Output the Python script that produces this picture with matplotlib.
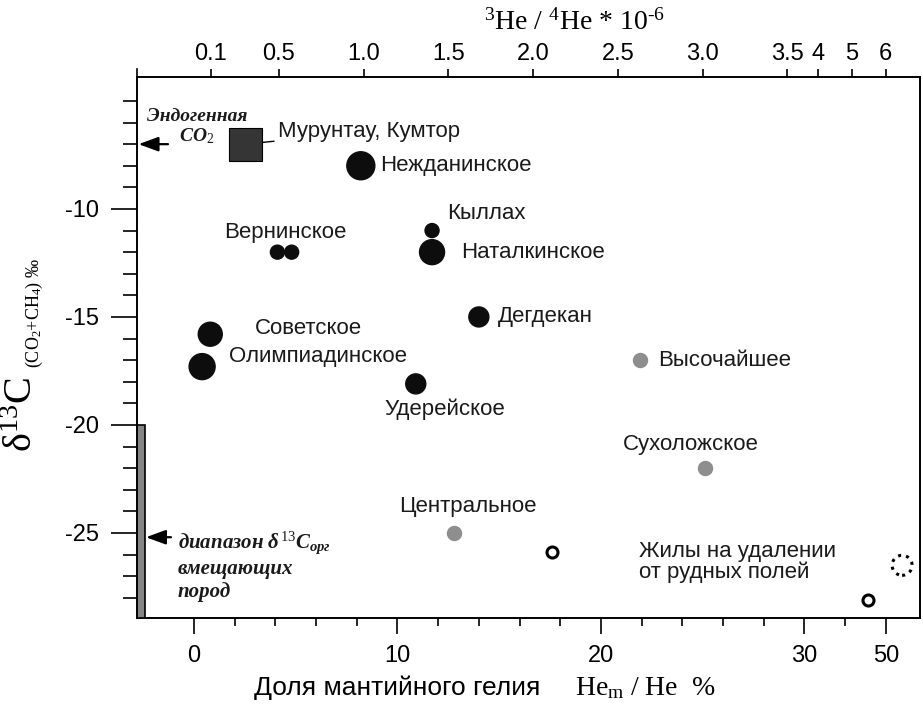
import numpy as np
import matplotlib
matplotlib.use('Agg')
import matplotlib.pyplot as plt
from matplotlib import font_manager
from matplotlib.transforms import blended_transform_factory
from matplotlib.patches import Rectangle


# data: mantle helium share (%) and d13C (permil)

black_names = ['Нежданинское', 'Кыллах', 'Наталкинское', 'Вернинское', '',
               'Дегдекан', 'Удерейское', 'Советское', 'Олимпиадинское']
black_he = [8.2, 11.7, 11.7, 4.1, 4.8, 14.0, 10.9, 0.8, 0.4]
black_d13c = [-8.0, -11.0, -12.0, -12.0, -12.0, -15.0, -18.1, -15.8, -17.3]

gray_names = ['Высочайшее', 'Сухоложское', 'Центральное']
gray_he = [21.9, 25.1, 12.8]
gray_d13c = [-17.0, -22.0, -25.0]

square_name = 'Мурунтау, Кумтор'
square_he = [2.5]
square_d13c = [-7.0]

vein_he = [17.6, 45.6]
vein_d13c = [-25.9, -28.1]
vein_dotted_he = [54.0]
vein_dotted_d13c = [-26.5]

endogenous_co2 = -7.0
host_rock_top = -20.0
host_rock_mark = -25.2

he_ticks = [0, 10, 20, 30, 50]
he_minor = [2, 4, 6, 8, 12, 14, 16, 18, 22, 24, 26, 28, 40]
ratio_ticks = [0.1, 0.5, 1.0, 1.5, 2.0, 2.5, 3.0, 3.5, 4, 5, 6]
ratio_labels = ['0.1', '0.5', '1.0', '1.5', '2.0', '2.5', '3.0', '3.5', '4', '5', '6']
ratio_mantle = 12.0  # 3He/4He*1e-6 for 100 % mantle helium
d13c_ticks = [-10, -15, -20, -25]


# styles (marker diameters in px at dpi 100)
black_sizes = [28, 14, 25, 14, 14, 20, 20, 24, 26]
black_offsets = [(14, 0), (11, 12), (21, 0), (6, 14), None, (14, 0), (21, -18), (32, 4), (19, 7)]
black_ha = ['left', 'left', 'left', 'center', 'left', 'left', 'center', 'left', 'left']
gray_offsets = [(13, 0), (-10, 17), (10, 19)]
gray_ha = ['left', 'center', 'center']


def pick(*names):
    for n in names:
        try:
            font_manager.findfont(n, fallback_to_default=False)
            return n
        except ValueError:
            pass
    return 'DejaVu Sans'


SANS = pick('Liberation Sans', 'Arial')
NARROW = pick('Liberation Sans Narrow', 'Liberation Sans')
SERIF = pick('Liberation Serif', 'DejaVu Serif')

plt.rcParams['font.family'] = SANS
plt.rcParams['axes.unicode_minus'] = False
plt.rcParams['mathtext.fontset'] = 'custom'
plt.rcParams['mathtext.rm'] = SERIF
plt.rcParams['mathtext.it'] = SERIF + ':italic:bold'
plt.rcParams['mathtext.bf'] = SERIF + ':bold'


def px(d):
    # marker diameter in px -> scatter area in pt^2
    return (np.asarray(d, float) * 0.72) ** 2


def fwd(x):
    x = np.asarray(x, float)
    return np.where(x <= 30, x, 30 + (x - 30) * 0.2)


def inv(u):
    u = np.asarray(u, float)
    return np.where(u <= 30, u, 30 + (u - 30) * 5)


fig = plt.figure(figsize=(9.23, 7.15), dpi=100)
ax = fig.add_axes([137 / 923, 97 / 715, 783 / 923, 541 / 715])
ax.set_xscale('function', functions=(fwd, inv))
ax.set_xlim(-2.8, 58.4)
ax.set_ylim(-28.94, -3.89)

for s in ax.spines.values():
    s.set_linewidth(1.2)

ax.set_xticks(he_ticks)
ax.set_xticklabels([str(t) for t in he_ticks])
ax.set_xticks(he_minor, minor=True)
ax.set_yticks(d13c_ticks)
ax.set_yticklabels([str(t) for t in d13c_ticks])
ax.set_yticks(np.arange(-28, -4), minor=True)
ax.tick_params(axis='x', which='major', length=11.5, width=1.2, pad=8, labelsize=17)
ax.tick_params(axis='x', which='minor', length=6, width=1.2)
ax.tick_params(axis='y', which='major', length=19, width=1.2, pad=8, labelsize=17)
ax.tick_params(axis='y', which='minor', length=10, width=1.2)
for lab in ax.get_xticklabels() + ax.get_yticklabels():
    lab.set_family(NARROW)

# top axis: 3He/4He
ax2 = ax.twiny()
ax2.set_xscale('function', functions=(fwd, inv))
ax2.set_xlim(ax.get_xlim())
ax2.set_xticks([r / ratio_mantle * 100 for r in ratio_ticks])
ax2.set_xticklabels(ratio_labels)
ax2.tick_params(axis='x', length=6, width=1.2, pad=3, labelsize=17)
ax2.xaxis.set_minor_locator(matplotlib.ticker.NullLocator())
for lab in ax2.get_xticklabels():
    lab.set_family(NARROW)
for s in ax2.spines.values():
    s.set_linewidth(1.2)
ax.plot([0, 0], [1, 1.015], transform=ax.transAxes, color='black', lw=1.2, clip_on=False)

# host rock range bar on the left spine
bt = blended_transform_factory(ax.transAxes, ax.transData)
ax.add_patch(Rectangle((0, host_rock_top - 10), 8 / 783, 10, transform=bt,
                       facecolor='#858585', edgecolor='black', lw=1.2, zorder=3))

# points
ax.scatter(black_he, black_d13c, s=px(black_sizes), color='#0d0d0d', zorder=4)
ax.scatter(gray_he, gray_d13c, s=px(14), color='#8e8e8e', zorder=4)
ax.scatter(vein_he, vein_d13c, s=px(11), facecolors='white', edgecolors='black',
           linewidths=2.2, zorder=4)
ax.scatter(vein_dotted_he, vein_dotted_d13c, s=px(20), facecolors='none', edgecolors='black',
           linewidths=2.2, linestyles=':', zorder=4)
ax.scatter(square_he, square_d13c, s=px(33), marker='s', color='#353535',
           edgecolors='black', linewidths=0.8, zorder=4)

lab_kw = dict(textcoords='offset points', va='center', fontsize=16, color='#1a1a1a')
for name, x, y, off, ha in zip(black_names, black_he, black_d13c, black_offsets, black_ha):
    if name:
        ax.annotate(name, (x, y), xytext=off, ha=ha, **lab_kw)
for name, x, y, off, ha in zip(gray_names, gray_he, gray_d13c, gray_offsets, gray_ha):
    ax.annotate(name, (x, y), xytext=off, ha=ha, **lab_kw)
ax.annotate(square_name, (square_he[0], square_d13c[0]), xytext=(24, 9), ha='left',
            arrowprops=dict(arrowstyle='-', color='black', lw=1.0, shrinkA=1, shrinkB=12),
            **lab_kw)
ax.text(0.641, -26.34, 'Жилы на удалении\nот рудных полей', transform=bt,
        ha='left', va='center', fontsize=16, color='#1a1a1a', linespacing=1.0)

# left side notes
arrow = dict(arrowstyle='-|>,head_length=0.6,head_width=0.22', color='black', lw=1.6,
             mutation_scale=20, shrinkA=0, shrinkB=0)
ax.annotate('', xy=(0.002, endogenous_co2), xycoords=bt,
            xytext=(31 / 783, endogenous_co2), textcoords=bt, arrowprops=arrow)
ax.annotate('', xy=(9 / 783, host_rock_mark), xycoords=bt,
            xytext=(34 / 783, host_rock_mark), textcoords=bt, arrowprops=arrow)
note_kw = dict(transform=bt, family=SERIF, weight='bold', style='italic', color='#1a1a1a')
ax.text(0.0766, -6.2, 'Эндогенная\nCO$_2$', ha='center', va='center', fontsize=14,
        linespacing=1.05, **note_kw)
ax.text(0.0524, -26.5, 'диапазон $\\delta^{13}$C$_{орг}$\nвмещающих\nпород', ha='left',
        va='center', fontsize=15, linespacing=1.2, **note_kw)

# axis titles
fig.text(22 / 923, 1 - 452 / 715, '$\\mathrm{\\delta}^{13}$C', rotation=90, ha='center',
         va='bottom', fontsize=29, family=SERIF)
fig.text(34 / 923, 1 - 368 / 715, '(CO$_2$+CH$_4$) ‰', rotation=90, ha='center',
         va='bottom', fontsize=13, family=SERIF)
fig.text(540 / 923, 1 - 688 / 715, 'Доля мантийного гелия', ha='right', va='center',
         fontsize=19, family=NARROW)
fig.text(575 / 923, 1 - 688 / 715, 'He$_\\mathrm{m}$ / He  %', ha='left', va='center',
         fontsize=20, family=SERIF)
fig.text(574 / 923, 1 - 22 / 715, '$^3$He / $^4$He * 10$^{\\text{-}6}$', ha='center',
         va='center', fontsize=20, family=SERIF)

fig.savefig('out.png', dpi=100)
